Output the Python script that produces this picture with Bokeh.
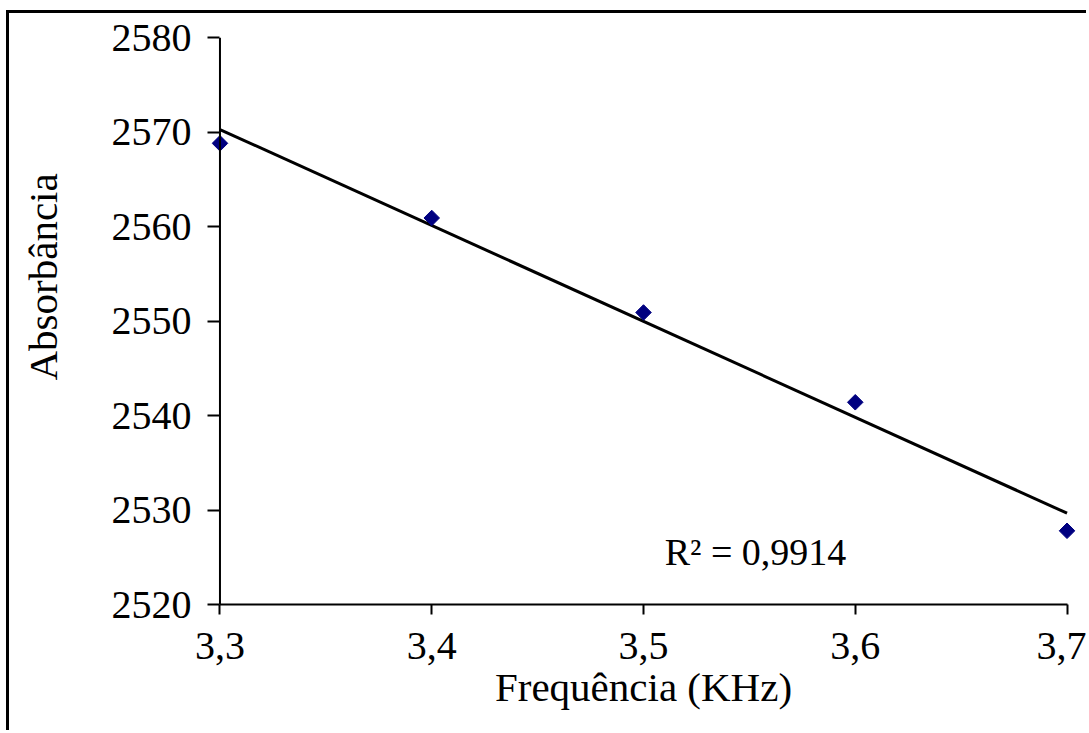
import numpy as np
from bokeh.plotting import figure
from bokeh.models import Range1d, FixedTicker, Span, ColumnDataSource, Title
from bokeh.core.properties import value
from bokeh.embed import file_html
from bokeh.resources import INLINE

# Data
freq = [3.3, 3.4, 3.5, 3.6, 3.7]
absorb = [2568.8, 2560.9, 2550.9, 2541.4, 2527.8]
x_ticks = [3.3, 3.4, 3.5, 3.6, 3.7]
x_tick_labels = ["3,3", "3,4", "3,5", "3,6", "3,7"]
y_ticks = [2520, 2530, 2540, 2550, 2560, 2570, 2580]
y_tick_labels = ["2520", "2530", "2540", "2550", "2560", "2570", "2580"]
r2_text = ["R\u00b2 = 0,9914"]
r2_pos_x = [3.51]
r2_pos_y = [2525.6]

FONT = "Liberation Serif"

p = figure(width=1080, height=720, output_backend="svg", toolbar_location=None,
           x_range=Range1d(3.296, 3.704), y_range=Range1d(2520, 2580),
           min_border_left=202, min_border_right=14, min_border_top=24, min_border_bottom=129)
p.styles = {"border-top": "3px solid black", "border-left": "3px solid black",
            "margin-left": "6px", "margin-top": "10px"}
p.outline_line_color = None
p.xgrid.visible = False
p.ygrid.visible = False
p.background_fill_color = "white"
p.border_fill_color = "white"

# x axis
xa = p.xaxis[0]
xa.ticker = FixedTicker(ticks=x_ticks)
xa.major_label_overrides = {t: l for t, l in zip(x_ticks, x_tick_labels)}
xa.bounds = (x_ticks[0], x_ticks[-1])
xa.axis_line_width = 2
xa.axis_line_color = "black"
xa.major_tick_line_width = 2
xa.major_tick_out = 10
xa.major_tick_in = 0
xa.minor_tick_line_color = None
xa.major_label_text_font = FONT
xa.major_label_text_font_size = "40px"
xa.major_label_text_color = "black"
xa.major_label_standoff = 18
xa.axis_label = "Frequência (KHz)"
xa.axis_label_text_font = FONT
xa.axis_label_text_font_size = "41px"
xa.axis_label_text_font_style = "normal"
xa.axis_label_text_color = "black"
xa.axis_label_standoff = 2

# y axis
ya = p.yaxis[0]
ya.ticker = FixedTicker(ticks=y_ticks)
ya.major_label_overrides = {t: l for t, l in zip(y_ticks, y_tick_labels)}
ya.axis_line_color = None
ya.major_tick_line_width = 2
ya.major_tick_out = 4
ya.major_tick_in = 8
ya.minor_tick_line_color = None
ya.major_label_text_font = FONT
ya.major_label_text_font_size = "40px"
ya.major_label_text_color = "black"
ya.major_label_standoff = 16
ya.axis_label = " "
ya.axis_label_text_font_size = "1px"
ya.axis_label_standoff = 31

y_title = Title(text="Absorbância", align="left", offset=224, standoff=16,
                text_font=FONT, text_font_size="41px", text_font_style="normal",
                text_color="black")
p.add_layout(y_title, "left")

p.add_layout(Span(location=x_ticks[0], dimension="height", line_color="black", line_width=2))

# trend line (least squares fit of the data)
slope, intercept = np.polyfit(freq, absorb, 1)
fit_x = [x_ticks[0], x_ticks[-1]]
fit_y = [slope * v + intercept for v in fit_x]
p.line(fit_x, fit_y, line_color="black", line_width=3)

src = ColumnDataSource(dict(x=freq, y=absorb))
p.scatter("x", "y", source=src, marker="square", angle=np.pi / 4, size=11,
          fill_color="#000080", line_color="#000080")

p.text(x=r2_pos_x, y=r2_pos_y, text=r2_text, text_font=value(FONT), text_font_size="38px",
       text_align="left", text_baseline="alphabetic", text_color="black")

open("out.html", "w").write(file_html(p, INLINE))
